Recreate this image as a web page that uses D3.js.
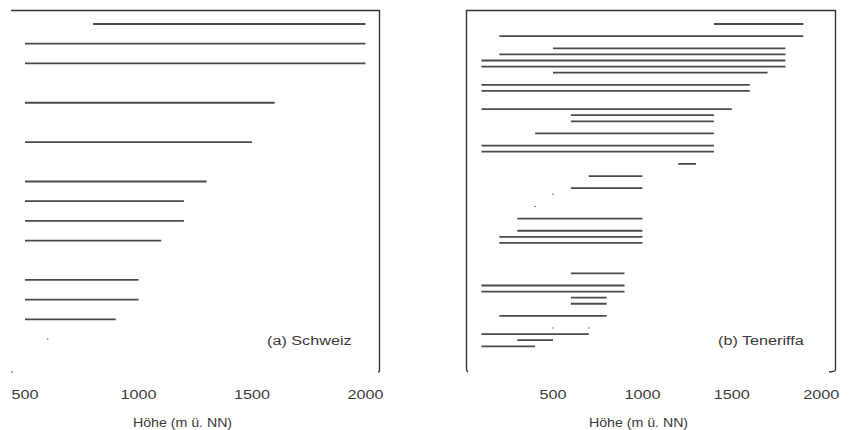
<!DOCTYPE html>
<html>
<head>
<meta charset="utf-8">
<script src="https://cdn.jsdelivr.net/npm/d3@7"></script>
<style>
  body { margin: 0; background: #fff; }
  svg { display: block; }
  text { font-family: "Liberation Sans", Arial, sans-serif; fill: #3a3a3a; }
</style>
</head>
<body>
<div id="chart"></div>
<script>
// x ticks shared by both panels
const xTicks = [500, 1000, 1500, 2000];

// (a) Schweiz: row index, lower and upper altitude (m)
const chRows = [0, 1, 2, 4, 6, 8, 9, 10, 11, 13, 14, 15, 16];
const chLow  = [800, 500, 500, 500, 500, 500, 500, 500, 500, 500, 500, 500, 600];
const chHigh = [2000, 2000, 2000, 1600, 1500, 1300, 1200, 1200, 1100, 1000, 1000, 900, 600];

// (b) Teneriffa
const tfRows = [0, 2, 4, 5, 6, 7, 8, 10, 11, 14, 15, 16, 18, 20, 21, 23, 25, 27, 28, 30,
                32, 34, 35, 36, 41, 43, 44, 45, 46, 48, 50, 50, 51, 52, 53];
const tfLow  = [1400, 200, 500, 200, 100, 100, 500, 100, 100, 100, 600, 600, 400, 100, 100, 1200, 700, 600, 500, 400,
                300, 300, 200, 200, 600, 100, 100, 600, 600, 200, 500, 700, 100, 300, 100];
const tfHigh = [1900, 1900, 1800, 1800, 1800, 1800, 1700, 1600, 1600, 1500, 1400, 1400, 1400, 1400, 1400, 1300, 1000, 1000, 500, 400,
                1000, 1000, 1000, 1000, 900, 900, 900, 800, 800, 800, 500, 700, 700, 500, 400];

const width = 850, height = 430;
const svg = d3.select('#chart').append('svg')
    .attr('width', width)
    .attr('height', height);

const panels = [
  {
    rows: chRows, low: chLow, high: chHigh, label: '(a) Schweiz',
    x: d3.scaleLinear().domain([500, 2000]).range([25, 365.5]),
    y: d3.scaleLinear().domain([0, 16]).range([24, 339]),
    frame: 'M11,10.5 H379.5 V371 Q379.5,372 378,372',
    extra: [[12, 372]],
    labelX: 267, titleX: 182.5
  },
  {
    rows: tfRows, low: tfLow, high: tfHigh, label: '(b) Teneriffa',
    x: d3.scaleLinear().domain([0, 2000]).range([463.6, 821.2]),
    y: d3.scaleLinear().domain([0, 53]).range([24, 346.3]),
    frame: 'M468,372 Q466.5,371 466.5,369 V10.5 H835.5 V370 Q835.5,371.5 829,372',
    extra: [],
    labelX: 718, titleX: 638.5
  }
];

// wide glyphs like the original scan
const stretch = 1.2;

panels.forEach(p => {
  const g = svg.append('g');
  const data = p.rows.map((r, i) => ({row: r, lo: p.low[i], hi: p.high[i]}));

  g.append('path')
    .attr('d', p.frame)
    .attr('fill', 'none')
    .attr('stroke', '#333')
    .attr('stroke-width', 1.4);

  p.extra.forEach(pt => {
    g.append('rect').attr('x', pt[0] - 0.8).attr('y', pt[1] - 0.6)
      .attr('width', 1.6).attr('height', 1.2).attr('fill', '#555');
  });

  // ranges
  g.selectAll('line.range')
    .data(data.filter(d => d.hi > d.lo))
    .join('line')
    .attr('class', 'range')
    .attr('x1', d => p.x(d.lo))
    .attr('x2', d => p.x(d.hi))
    .attr('y1', d => p.y(d.row))
    .attr('y2', d => p.y(d.row))
    .attr('stroke', '#4a4a4a')
    .attr('stroke-width', 1.8);

  // single altitude records
  g.selectAll('circle.single')
    .data(data.filter(d => d.hi === d.lo))
    .join('circle')
    .attr('class', 'single')
    .attr('cx', d => p.x(d.lo))
    .attr('cy', d => p.y(d.row))
    .attr('r', 0.8)
    .attr('fill', '#666');

  g.selectAll('text.tick')
    .data(xTicks)
    .join('text')
    .attr('class', 'tick')
    .attr('transform', d => `translate(${p.x(d)},399) scale(${stretch},1)`)
    .attr('text-anchor', 'middle')
    .style('font-size', '13.5px')
    .text(d => d);

  g.append('text')
    .attr('transform', `translate(${p.labelX},344.5) scale(${stretch},1)`)
    .style('font-size', '13.5px')
    .text(p.label);

  g.append('text')
    .attr('transform', `translate(${p.titleX},427) scale(1.05,1)`)
    .attr('text-anchor', 'middle')
    .style('font-size', '13.5px')
    .text('Höhe (m ü. NN)');
});
</script>
</body>
</html>
